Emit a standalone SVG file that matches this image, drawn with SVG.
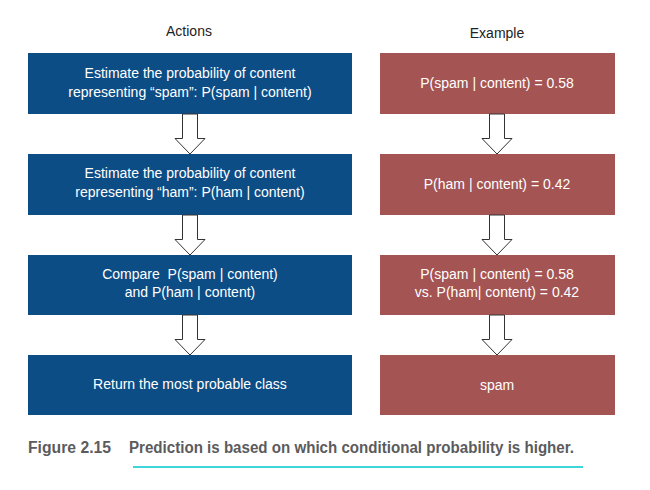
<svg xmlns="http://www.w3.org/2000/svg" width="650" height="490" viewBox="0 0 650 490">
<style>
.bg{fill:#ffffff}
.blue{fill:#0d4d86}
.red{fill:#a45453}
.t{font-family:"Liberation Sans",Arial,sans-serif;font-size:14px;fill:#ffffff;text-anchor:middle}
.h{font-family:"Liberation Sans",Arial,sans-serif;font-size:14px;fill:#222222;text-anchor:middle}
.arrow{fill:#ffffff;stroke:#333333;stroke-width:1}
.cap{font-family:"Liberation Sans",Arial,sans-serif;font-size:16px;font-weight:bold;fill:#5b5b5d}
</style>
<rect class="bg" x="0" y="0" width="650" height="490"/>
<g id="headers">
<text class="h" x="189" y="36">Actions</text>
<text class="h" x="497" y="38">Example</text>
</g>
<g id="action1">
<rect class="blue" x="28" y="53" width="324" height="61"/>
<text class="t" x="190" y="78">Estimate the probability of content</text>
<text class="t" x="190" y="97">representing “spam”: P(spam | content)</text>
</g>
<g id="action2">
<rect class="blue" x="28" y="154" width="324" height="61"/>
<text class="t" x="190" y="178">Estimate the probability of content</text>
<text class="t" x="190" y="197">representing “ham”: P(ham | content)</text>
</g>
<g id="action3">
<rect class="blue" x="28" y="255" width="324" height="60"/>
<text class="t" x="190" y="279" style="white-space:pre">Compare  P(spam | content)</text>
<text class="t" x="190" y="297">and P(ham | content)</text>
</g>
<g id="action4">
<rect class="blue" x="28" y="355" width="324" height="60"/>
<text class="t" x="190" y="389">Return the most probable class</text>
</g>
<g id="example1">
<rect class="red" x="380" y="53" width="235" height="61"/>
<text class="t" x="497" y="88">P(spam | content) = 0.58</text>
</g>
<g id="example2">
<rect class="red" x="380" y="154" width="235" height="61"/>
<text class="t" x="497" y="189">P(ham | content) = 0.42</text>
</g>
<g id="example3">
<rect class="red" x="380" y="255" width="235" height="60"/>
<text class="t" x="497" y="279">P(spam | content) = 0.58</text>
<text class="t" x="497" y="297">vs. P(ham| content) = 0.42</text>
</g>
<g id="example4">
<rect class="red" x="380" y="355" width="235" height="60"/>
<text class="t" x="497" y="390">spam</text>
</g>
<g id="connectors">
<polygon class="arrow" points="182.5,114 197.5,114 197.5,138.5 205,138.5 190,154 175,138.5 182.5,138.5"/>
<polygon class="arrow" points="182.5,215 197.5,215 197.5,239.5 205,239.5 190,255 175,239.5 182.5,239.5"/>
<polygon class="arrow" points="182.5,315 197.5,315 197.5,339.5 205,339.5 190,355 175,339.5 182.5,339.5"/>
<polygon class="arrow" points="489.5,114 504.5,114 504.5,138.5 512,138.5 497,154 482,138.5 489.5,138.5"/>
<polygon class="arrow" points="489.5,215 504.5,215 504.5,239.5 512,239.5 497,255 482,239.5 489.5,239.5"/>
<polygon class="arrow" points="489.5,315 504.5,315 504.5,339.5 512,339.5 497,355 482,339.5 489.5,339.5"/>
</g>
<g id="caption">
<text class="cap" x="28" y="453" textLength="83" lengthAdjust="spacingAndGlyphs">Figure 2.15</text>
<text class="cap" x="129" y="453" textLength="445" lengthAdjust="spacingAndGlyphs">Prediction is based on which conditional probability is higher.</text>
<rect x="133" y="466" width="450" height="2" fill="#3fd6d9"/>
</g>
</svg>
